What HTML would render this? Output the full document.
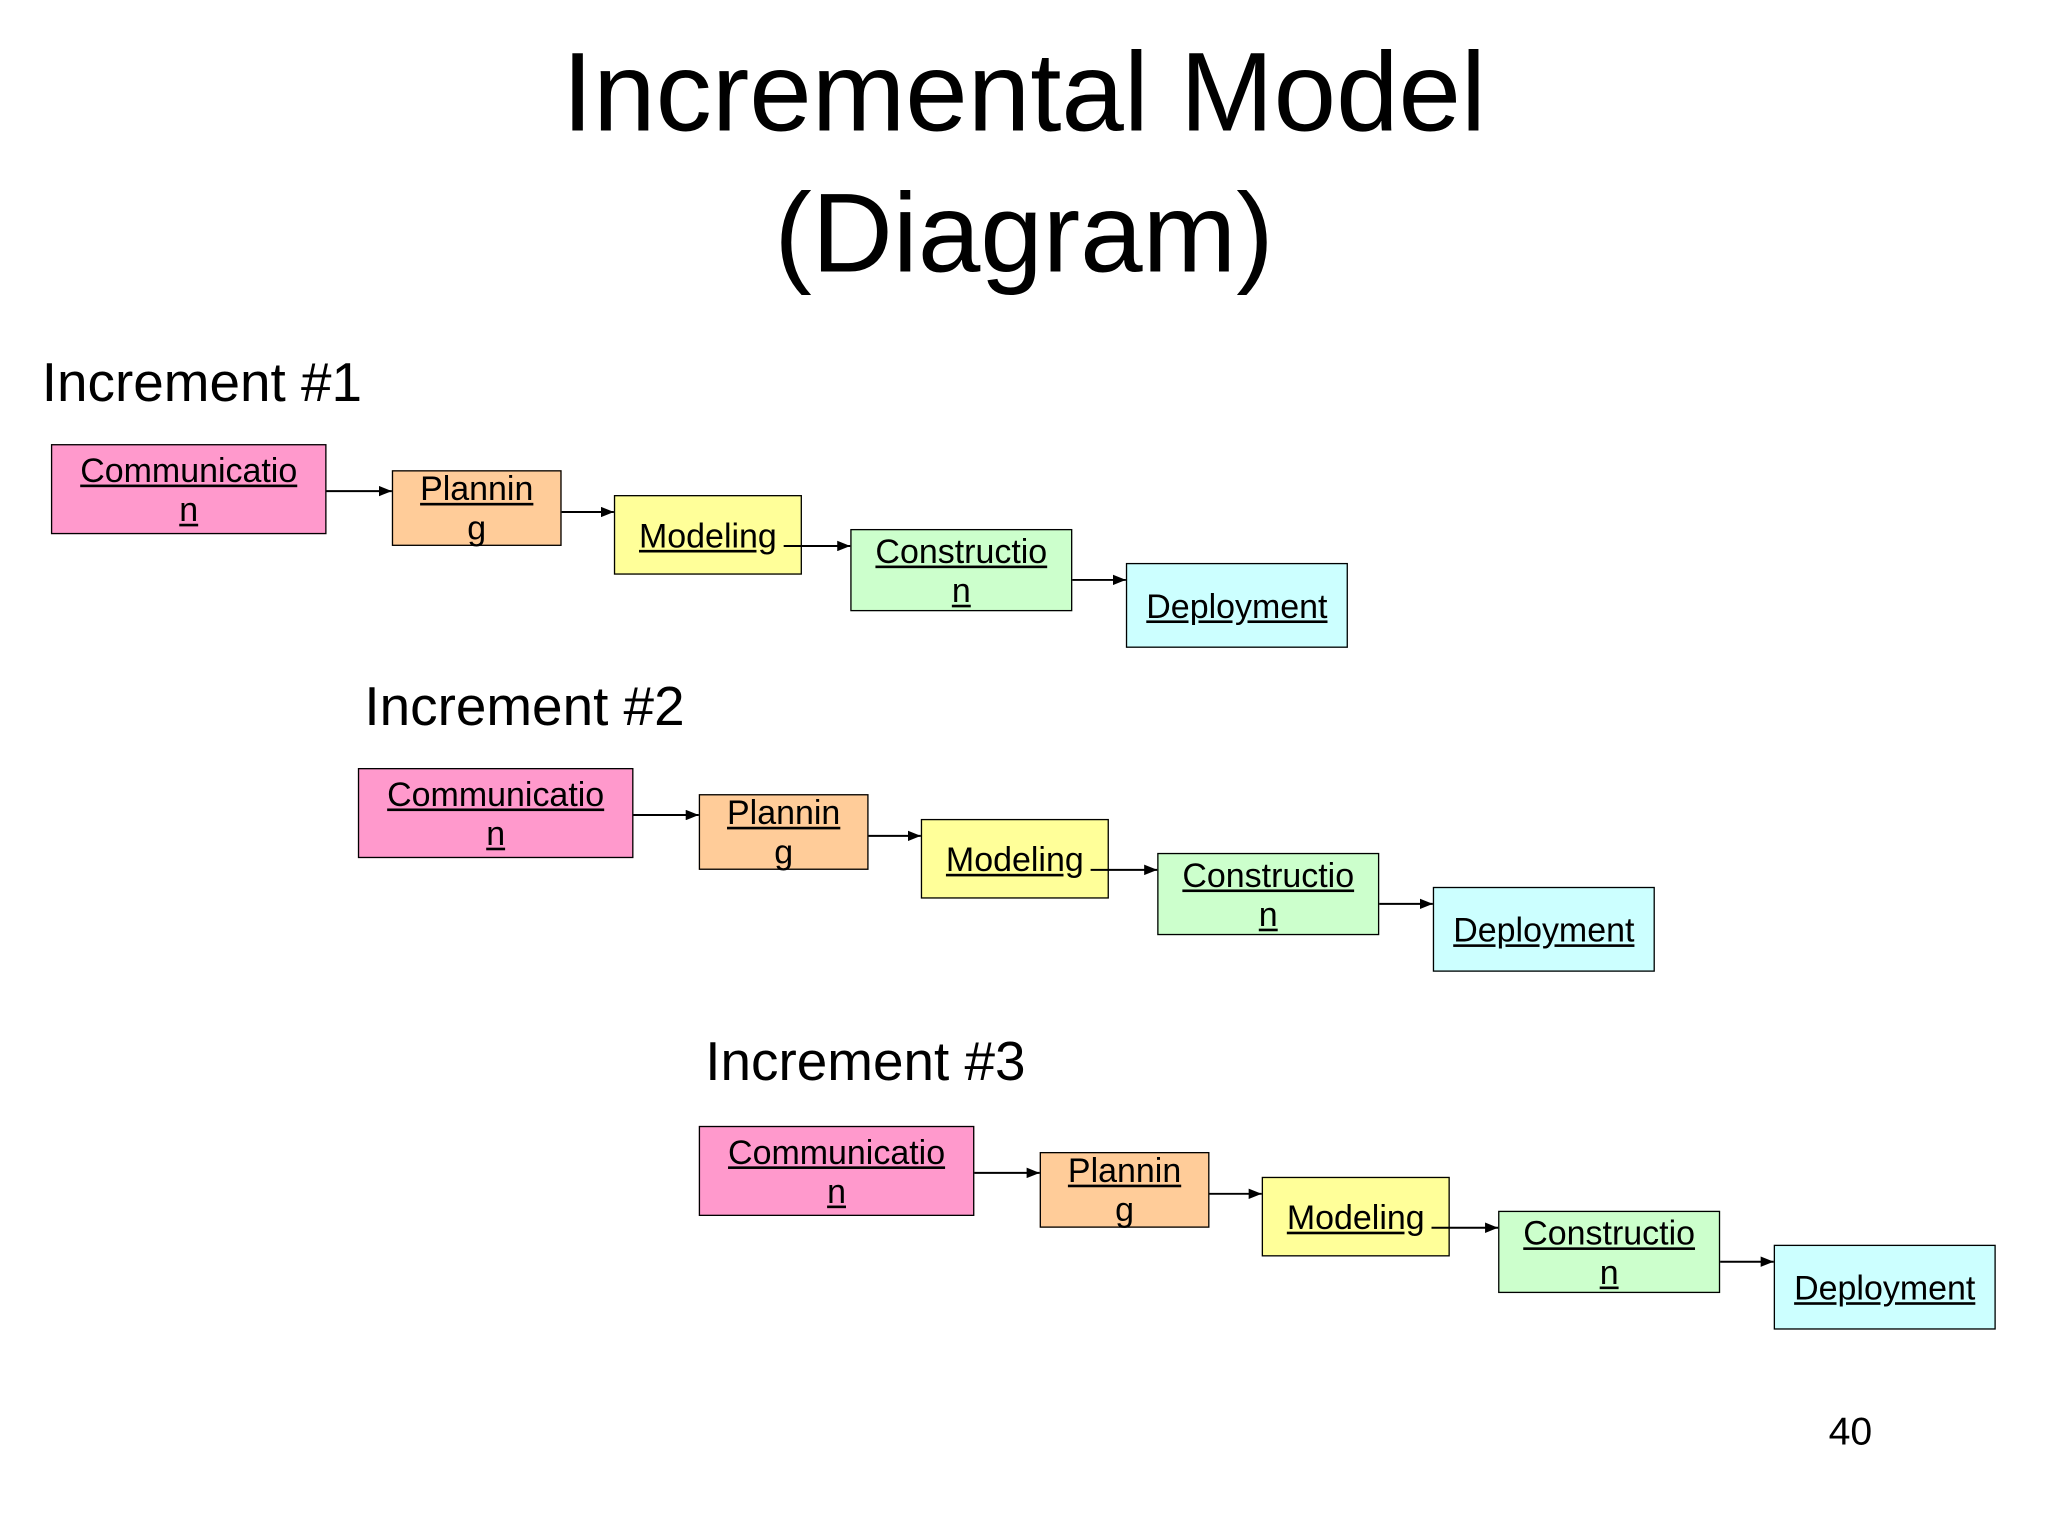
<!DOCTYPE html>
<html><head><meta charset="utf-8"><style>
html,body{margin:0;padding:0;background:#fff;}
#wrap{position:relative;width:2048px;height:1536px;overflow:hidden;background:#fff;}
#s{position:absolute;left:0;top:0;width:1568px;height:1176px;transform:scale(1.30612);transform-origin:0 0;font-family:"Liberation Sans",Arial,sans-serif;}
.t{position:absolute;left:0;width:1568px;text-align:center;font-size:86px;color:#000;line-height:1;}
.lbl{position:absolute;font-size:42px;line-height:1;color:#000;white-space:nowrap;}
.b{position:absolute;box-sizing:border-box;border:1.5px solid #000;display:flex;align-items:center;justify-content:center;text-align:center;font-size:26px;line-height:30px;text-decoration:underline;color:#000;}
.pk{background:#ff99cc}.or{background:#ffcc99}.ye{background:#ffff99}.gr{background:#ccffcc}.cy{background:#ccffff}
svg{position:absolute;left:0;top:0;}
</style></head><body><div id="wrap"><div id="s">
<div class="t" style="top:28px">Incremental Model</div>
<div class="t" style="top:136px">(Diagram)</div>

<div class="lbl" style="left:32px;top:272px">Increment #1</div>
<div class="lbl" style="left:279px;top:520px">Increment #2</div>
<div class="lbl" style="left:540px;top:792px">Increment #3</div>

<div class="b pk" style="left:39px;top:340px;width:211px;height:69px">Communicatio<br>n</div>
<div class="b or" style="left:300px;top:360px;width:130px;height:58px">Plannin<br>g</div>
<div class="b ye" style="left:470px;top:379px;width:144px;height:61px">Modeling</div>
<div class="b gr" style="left:651px;top:405px;width:170px;height:63px">Constructio<br>n</div>
<div class="b cy" style="left:862px;top:431px;width:170px;height:65px">Deployment</div>

<div class="b pk" style="left:274px;top:588px;width:211px;height:69px">Communicatio<br>n</div>
<div class="b or" style="left:535px;top:608px;width:130px;height:58px">Plannin<br>g</div>
<div class="b ye" style="left:705px;top:627px;width:144px;height:61px">Modeling</div>
<div class="b gr" style="left:886px;top:653px;width:170px;height:63px">Constructio<br>n</div>
<div class="b cy" style="left:1097px;top:679px;width:170px;height:65px">Deployment</div>

<div class="b pk" style="left:535px;top:862px;width:211px;height:69px">Communicatio<br>n</div>
<div class="b or" style="left:796px;top:882px;width:130px;height:58px">Plannin<br>g</div>
<div class="b ye" style="left:966px;top:901px;width:144px;height:61px">Modeling</div>
<div class="b gr" style="left:1147px;top:927px;width:170px;height:63px">Constructio<br>n</div>
<div class="b cy" style="left:1358px;top:953px;width:170px;height:65px">Deployment</div>

<svg width="1568" height="1176" viewBox="0 0 1568 1176">
<defs><marker id="a" markerWidth="10" markerHeight="8" refX="10" refY="4" orient="auto" markerUnits="userSpaceOnUse"><path d="M0,0 L10,4 L0,8 z" fill="#000"/></marker></defs>
<g stroke="#000" stroke-width="1.5" marker-end="url(#a)">
<line x1="250" y1="376" x2="300" y2="376"/>
<line x1="430" y1="392" x2="470" y2="392"/>
<line x1="600" y1="418" x2="651" y2="418"/>
<line x1="821" y1="444" x2="862" y2="444"/>
<line x1="485" y1="624" x2="535" y2="624"/>
<line x1="665" y1="640" x2="705" y2="640"/>
<line x1="835" y1="666" x2="886" y2="666"/>
<line x1="1056" y1="692" x2="1097" y2="692"/>
<line x1="746" y1="898" x2="796" y2="898"/>
<line x1="926" y1="914" x2="966" y2="914"/>
<line x1="1096" y1="940" x2="1147" y2="940"/>
<line x1="1317" y1="966" x2="1358" y2="966"/>
</g></svg>

<div class="lbl" style="left:1400px;top:1082px;font-size:30px">40</div>
</div></div></body></html>
